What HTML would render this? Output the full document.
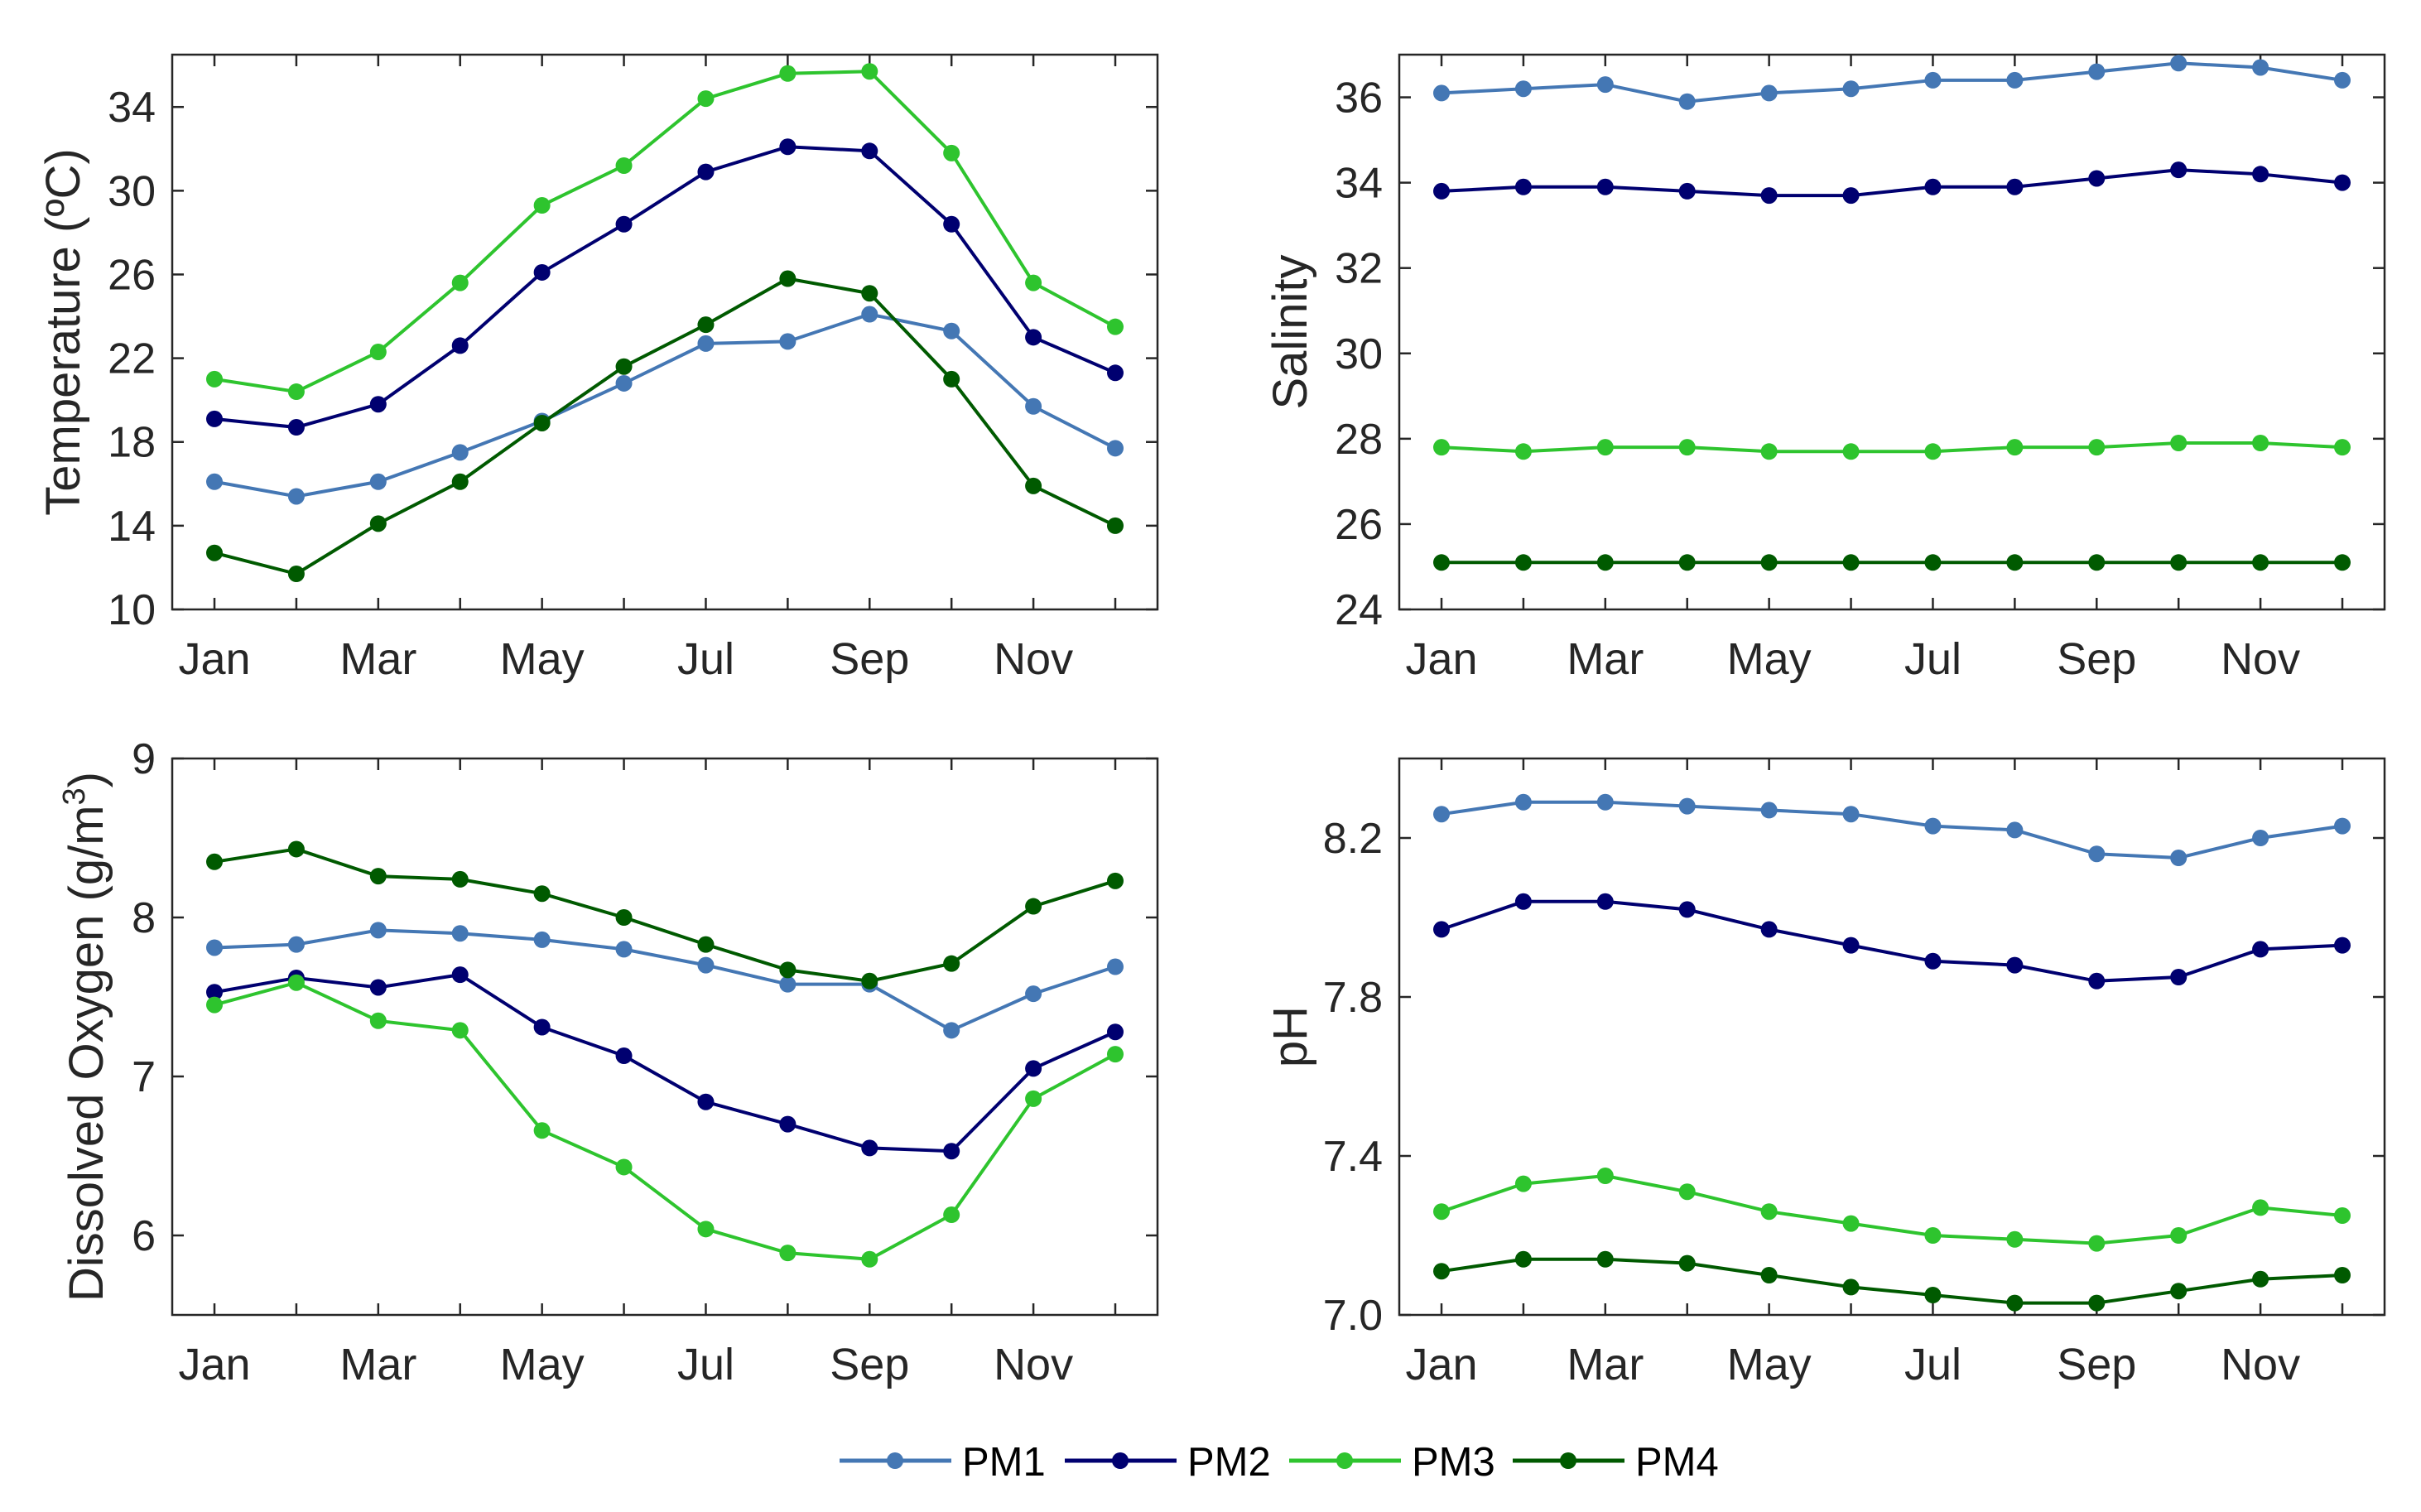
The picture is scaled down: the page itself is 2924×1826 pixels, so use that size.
<!DOCTYPE html>
<html><head><meta charset="utf-8"><style>
html,body{margin:0;padding:0;background:#fff;}
svg{display:block;font-family:"Liberation Sans",sans-serif;}
</style></head><body>
<svg id="c" width="2924" height="1826" viewBox="0 0 2924 1826" xmlns="http://www.w3.org/2000/svg"></svg>
<script>
const months = ["Jan","Feb","Mar","Apr","May","Jun","Jul","Aug","Sep","Oct","Nov","Dec"];
const monthLabels = ["Jan","Mar","May","Jul","Sep","Nov"];
const seriesNames = ["PM1","PM2","PM3","PM4"];
const tempPM1 = [16.1,15.4,16.1,17.5,19.0,20.8,22.7,22.8,24.1,23.3,19.7,17.7];
const tempPM2 = [19.1,18.7,19.8,22.6,26.1,28.4,30.9,32.1,31.9,28.4,23.0,21.3];
const tempPM3 = [21.0,20.4,22.3,25.6,29.3,31.2,34.4,35.6,35.7,31.8,25.6,23.5];
const tempPM4 = [12.7,11.7,14.1,16.1,18.9,21.6,23.6,25.8,25.1,21.0,15.9,14.0];
const salPM1 = [36.1,36.2,36.3,35.9,36.1,36.2,36.4,36.4,36.6,36.8,36.7,36.4];
const salPM2 = [33.8,33.9,33.9,33.8,33.7,33.7,33.9,33.9,34.1,34.3,34.2,34.0];
const salPM3 = [27.8,27.7,27.8,27.8,27.7,27.7,27.7,27.8,27.8,27.9,27.9,27.8];
const salPM4 = [25.1,25.1,25.1,25.1,25.1,25.1,25.1,25.1,25.1,25.1,25.1,25.1];
const doPM1 = [7.81,7.83,7.92,7.90,7.86,7.80,7.70,7.58,7.58,7.29,7.52,7.69];
const doPM2 = [7.53,7.62,7.56,7.64,7.31,7.13,6.84,6.70,6.55,6.53,7.05,7.28];
const doPM3 = [7.45,7.59,7.35,7.29,6.66,6.43,6.04,5.89,5.85,6.13,6.86,7.14];
const doPM4 = [8.35,8.43,8.26,8.24,8.15,8.00,7.83,7.67,7.60,7.71,8.07,8.23];
const phPM1 = [8.26,8.29,8.29,8.28,8.27,8.26,8.23,8.22,8.16,8.15,8.20,8.23];
const phPM2 = [7.97,8.04,8.04,8.02,7.97,7.93,7.89,7.88,7.84,7.85,7.92,7.93];
const phPM3 = [7.26,7.33,7.35,7.31,7.26,7.23,7.20,7.19,7.18,7.20,7.27,7.25];
const phPM4 = [7.11,7.14,7.14,7.13,7.10,7.07,7.05,7.03,7.03,7.06,7.09,7.10];
const tempTicks = ["10","14","18","22","26","30","34"];
const salTicks = ["24","26","28","30","32","34","36"];
const doTicks = ["6","7","8","9"];
const phTicks = ["7.0","7.4","7.8","8.2"];

const colors = ["#4477b4","#000070","#2ec42e","#005a00"];
const NS = "http://www.w3.org/2000/svg";
const svg = document.getElementById("c");
function mk(tag, attrs, parent){
  const e = document.createElementNS(NS, tag);
  for (const k in attrs) e.setAttribute(k, attrs[k]);
  (parent||svg).appendChild(e);
  return e;
}
function panel(key, box, ymin, ymax, ticks, series, title, titleX){
  const g = mk("g", {});
  
  
  const xs = i => box.x0 + 51 + i * (box.x1 - box.x0 - 102) / 11;
  const ys = v => box.y1 - (v - ymin) / (ymax - ymin) * (box.y1 - box.y0);
  const frame = mk("rect", {x:box.x0, y:box.y0, width:box.x1-box.x0, height:box.y1-box.y0, fill:"none", stroke:"#262626", "stroke-width":2.5}, g);
  
  
  months.forEach((m, i) => {
    const x = xs(i);
    mk("line", {x1:x, x2:x, y1:box.y1, y2:box.y1-14, stroke:"#262626", "stroke-width":2.5}, g);
    mk("line", {x1:x, x2:x, y1:box.y0, y2:box.y0+14, stroke:"#262626", "stroke-width":2.5}, g);
    if (monthLabels.includes(m)) {
      const t = mk("text", {x:x, y:box.y1+78, "font-size":54, "text-anchor":"middle", fill:"#262626"}, g);
      t.textContent = m;
      
      
    }
  });
  ticks.forEach(tk => {
    const y = ys(parseFloat(tk));
    mk("line", {x1:box.x0, x2:box.x0+14, y1:y, y2:y, stroke:"#262626", "stroke-width":2.5}, g);
    mk("line", {x1:box.x1, x2:box.x1-14, y1:y, y2:y, stroke:"#262626", "stroke-width":2.5}, g);
    const t = mk("text", {x:box.x0-20, y:y+18, "font-size":52, "text-anchor":"end", fill:"#262626"}, g);
    t.textContent = tk;
    
    
  });
  const cy = (box.y0 + box.y1) / 2;
  const tt = mk("text", {x:titleX, y:cy, "font-size":58, "text-anchor":"middle", fill:"#262626", transform:"rotate(-90 "+titleX+" "+cy+")"}, g);
  tt.innerHTML = title;
  
  
  series.forEach((vals, si) => {
    const pts = vals.map((v, i) => xs(i) + "," + ys(v)).join(" ");
    const pl = mk("polyline", {points:pts, fill:"none", stroke:colors[si], "stroke-width":4}, g);
    
    
    vals.forEach((v, i) => {
      const c = mk("circle", {cx:xs(i), cy:ys(v), r:10, fill:colors[si]}, g);
      
      
    });
  });
}
panel("temperature", {x0:208,x1:1398,y0:66,y1:736}, 10, 36.5, tempTicks, [tempPM1,tempPM2,tempPM3,tempPM4], "Temperature (ºC)", 96);
panel("salinity", {x0:1690,x1:2880,y0:66,y1:736}, 24, 37, salTicks, [salPM1,salPM2,salPM3,salPM4], "Salinity", 1578);
panel("dissolved-oxygen", {x0:208,x1:1398,y0:916,y1:1588}, 5.5, 9, doTicks, [doPM1,doPM2,doPM3,doPM4], 'Dissolved Oxygen (g/m<tspan dy="-22" font-size="38">3</tspan><tspan dy="22">)</tspan>', 124);
panel("ph", {x0:1690,x1:2880,y0:916,y1:1588}, 7.0, 8.4, phTicks, [phPM1,phPM2,phPM3,phPM4], "pH", 1578);

const lg = mk("g", {});


const legX = [1014, 1286, 1557, 1827];
seriesNames.forEach((n, i) => {
  const e = mk("g", {}, lg);
  
  
  mk("line", {x1:legX[i], x2:legX[i]+135, y1:1764, y2:1764, stroke:colors[i], "stroke-width":5}, e);
  mk("circle", {cx:legX[i]+67, cy:1764, r:10, fill:colors[i]}, e);
  const t = mk("text", {x:legX[i]+148, y:1782, "font-size":49, fill:"#000"}, e);
  t.textContent = n;
});
</script>
</body></html>
